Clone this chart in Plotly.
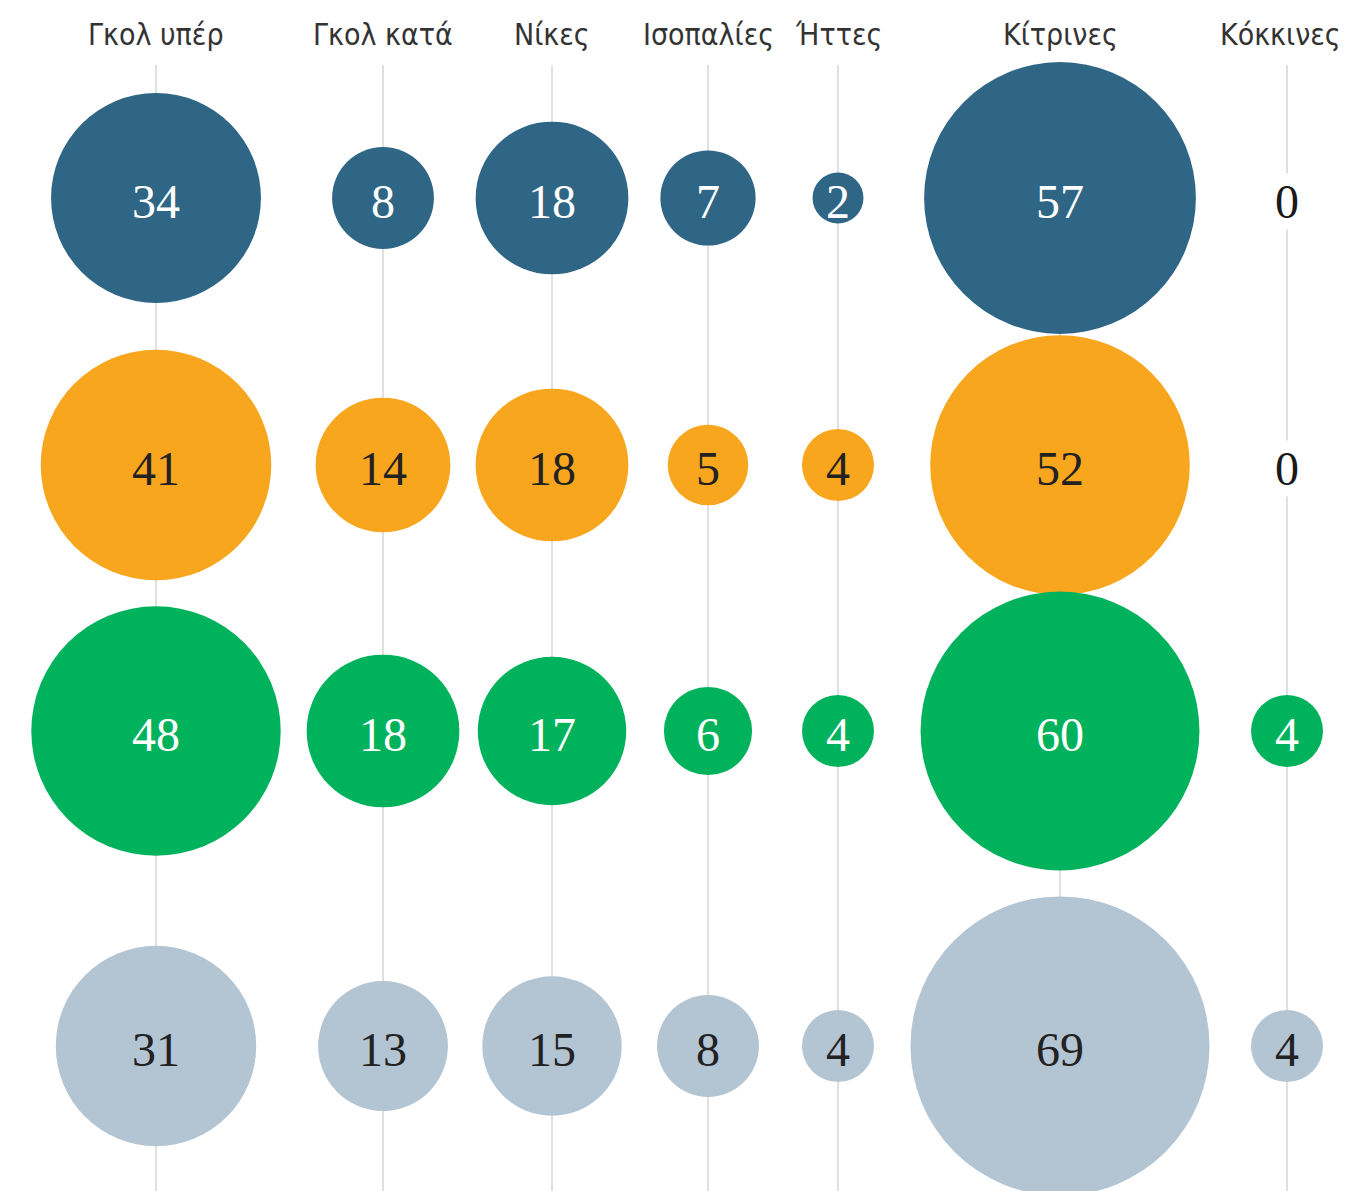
import plotly.graph_objects as go

# ---- data ----
CATEGORIES = ["Γκολ υπέρ", "Γκολ κατά", "Νίκες", "Ισοπαλίες", "Ήττες", "Κίτρινες", "Κόκκινες"]
ROW_1 = [34, 8, 18, 7, 2, 57, 0]
ROW_2 = [41, 14, 18, 5, 4, 52, 0]
ROW_3 = [48, 18, 17, 6, 4, 60, 4]
ROW_4 = [31, 13, 15, 8, 4, 69, 4]

# ---- layout / style ----
W, H = 1346, 1191
COL_X = [156, 383, 552, 708, 838, 1060, 1287]
ROW_Y = [198, 465, 731, 1046]
FILLS = ["#2f6685", "#f8a61d", "#00b25b", "#b3c4d3"]
LABEL_COLORS = ["#ffffff", "#222222", "#ffffff", "#222222"]
K = 18.0  # radius = K * sqrt(value)
SIZEREF = 1.0 / (2 * K * K)
HEADER_FONT = "'DejaVu Sans Condensed', 'Liberation Sans Narrow', 'Roboto Condensed', 'Open Sans Condensed', Roboto, sans-serif"

rows = [ROW_1, ROW_2, ROW_3, ROW_4]

fig = go.Figure()

for ri, vals in enumerate(rows):
    fig.add_trace(go.Scatter(
        x=COL_X, y=[ROW_Y[ri]] * len(vals), mode="markers",
        marker=dict(size=vals, sizemode="area", sizeref=SIZEREF,
                    color=FILLS[ri], line=dict(width=0), opacity=1),
        hoverinfo="skip", showlegend=False,
    ))

shapes = []
for cx in COL_X:
    shapes.append(dict(type="line", xref="x", yref="y", x0=cx, x1=cx, y0=65, y1=H,
                       line=dict(color="#d6d6d6", width=1.5), layer="below"))

annotations = []
for ci, (cat, cx) in enumerate(zip(CATEGORIES, COL_X)):
    last = (ci == len(CATEGORIES) - 1)
    annotations.append(dict(x=W - 3 if last else cx, y=34, xref="x", yref="y", text=cat,
                            showarrow=False,
                            xanchor="right" if last else "center", yanchor="middle",
                            font=dict(family=HEADER_FONT, size=30, color="#333333", weight=300)))

for ri, vals in enumerate(rows):
    for ci, v in enumerate(vals):
        zero = (v == 0)
        annotations.append(dict(
            x=COL_X[ci], y=ROW_Y[ri], xref="x", yref="y", text=str(v), showarrow=False,
            xanchor="center", yanchor="middle", yshift=-3,
            bgcolor="#ffffff" if zero else "rgba(0,0,0,0)",
            font=dict(family="Liberation Serif", size=48,
                      color="#1a1a1a" if zero else LABEL_COLORS[ri]),
        ))

fig.update_layout(
    width=W, height=H,
    margin=dict(l=0, r=0, t=0, b=0),
    paper_bgcolor="white", plot_bgcolor="white",
    xaxis=dict(range=[0, W], visible=False, fixedrange=True),
    yaxis=dict(range=[H, 0], visible=False, fixedrange=True),
    shapes=shapes, annotations=annotations,
)

fig.write_html("out.html", config={"displayModeBar": False},
               post_script="document.body.style.margin='0';document.body.style.overflow='hidden';")
